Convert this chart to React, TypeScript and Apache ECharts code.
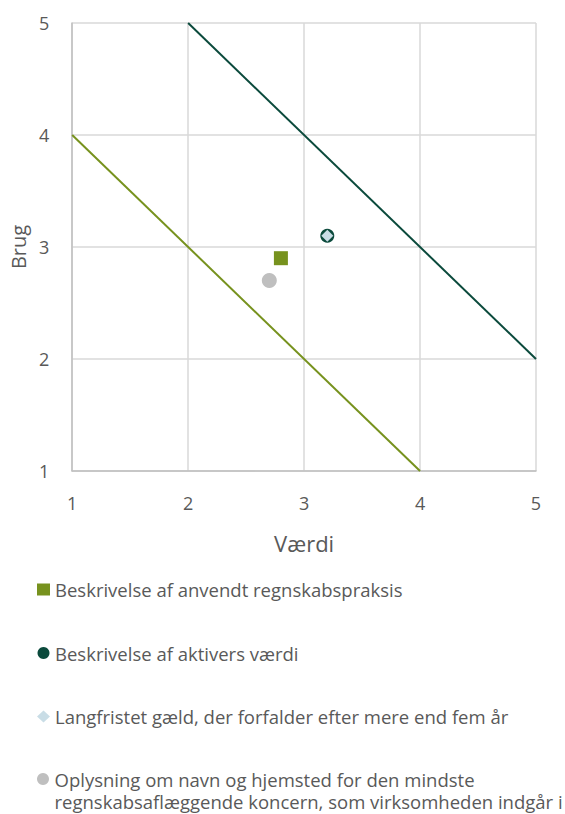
import React, { useEffect, useRef } from "react";
import * as echarts from "echarts";

// ---- data ----
const xAxisName = "Værdi";
const yAxisName = "Brug";
const axisMin = 1;
const axisMax = 5;
const axisStep = 1;

const seriesNames = [
  "Beskrivelse af anvendt regnskabspraksis",
  "Beskrivelse af aktivers værdi",
  "Langfristet gæld, der forfalder efter mere end fem år",
  "Oplysning om navn og hjemsted for den mindste regnskabsaflæggende koncern, som virksomheden indgår i",
];
const regnskabspraksisPoint = [[2.8, 2.9]];
const aktiversVaerdiPoint = [[3.2, 3.1]];
const langfristetGaeldPoint = [[3.2, 3.1]];
const oplysningPoint = [[2.7, 2.7]];

const lowerBoundLine = [
  [1, 4],
  [4, 1],
];
const upperBoundLine = [
  [2, 5],
  [5, 2],
];

const seriesColors = ["#77921E", "#0B4A3C", "#C9DDE6", "#BFBFBF"];
const seriesSymbols = ["rect", "circle", "diamond", "circle"];
const seriesPoints = [regnskabspraksisPoint, aktiversVaerdiPoint, langfristetGaeldPoint, oplysningPoint];
const symbolSizes = [14, 14, 12, 15];

const FONT = "'Open Sans', sans-serif";
const TEXT = "#595959";

export default function App() {
  const ref = useRef<HTMLDivElement>(null);

  useEffect(() => {
    if (!ref.current) return;
    const chart = echarts.init(ref.current, null, { renderer: "svg" });

    const scatterSeries = seriesNames.map((name, i) => ({
      name,
      type: "scatter",
      data: seriesPoints[i],
      symbol: seriesSymbols[i],
      symbolSize: symbolSizes[i],
      itemStyle: { color: seriesColors[i], opacity: 1 },
      z: 3 + i,
    }));

    const lastName = seriesNames[3];
    const breakAt = "mindste ";

    const legendBase = {
      orient: "vertical",
      left: 32,
      height: 400,
      itemWidth: 13,
      itemHeight: 12,
      itemGap: 42.5,
      textStyle: { fontFamily: FONT, fontSize: 18.5, color: TEXT, lineHeight: 21 },
    };

    chart.setOption({
      animation: false,
      backgroundColor: "#ffffff",
      textStyle: { fontFamily: FONT, color: TEXT },
      grid: { left: 72, right: 29, top: 23, bottom: 343, containLabel: false },
      xAxis: {
        type: "value",
        min: axisMin,
        max: axisMax,
        interval: axisStep,
        name: xAxisName,
        nameLocation: "middle",
        nameGap: 61,
        nameTextStyle: { fontFamily: FONT, fontSize: 22, color: TEXT },
        axisLine: { show: true, lineStyle: { color: "#BFBFBF", width: 1.5 } },
        axisTick: { show: false },
        axisLabel: { fontFamily: FONT, fontSize: 18, color: TEXT, margin: 23 },
        splitLine: { show: true, lineStyle: { color: "#D9D9D9", width: 1.5 } },
      },
      yAxis: {
        type: "value",
        min: axisMin,
        max: axisMax,
        interval: axisStep,
        name: yAxisName,
        nameLocation: "middle",
        nameGap: 38,
        nameTextStyle: { fontFamily: FONT, fontSize: 20, color: TEXT },
        axisLine: { show: true, lineStyle: { color: "#BFBFBF", width: 1.5 } },
        axisTick: { show: false },
        axisLabel: { fontFamily: FONT, fontSize: 18, color: TEXT, margin: 23 },
        splitLine: { show: true, lineStyle: { color: "#D9D9D9", width: 1.5 } },
      },
      legend: [
        {
          ...legendBase,
          top: 574,
          data: seriesNames.slice(0, 3).map((name, i) => ({
            name,
            icon: seriesSymbols[i],
            itemStyle: { color: seriesColors[i] },
          })),
        },
        {
          ...legendBase,
          top: 740.25,
          textStyle: { fontFamily: FONT, fontSize: 18.5, color: TEXT, lineHeight: 22.5 },
          formatter: (name: string) =>
            name === lastName ? "\n" + name.replace(breakAt, breakAt.trim() + "\n") : name,
          data: [
            {
              name: lastName,
              icon: seriesSymbols[3],
              itemStyle: { color: seriesColors[3] },
            },
          ],
        },
      ],
      series: [
        {
          name: "lower",
          type: "line",
          data: lowerBoundLine,
          symbol: "none",
          lineStyle: { color: "#77921E", width: 2 },
          z: 2,
          silent: true,
        },
        {
          name: "upper",
          type: "line",
          data: upperBoundLine,
          symbol: "none",
          lineStyle: { color: "#0B4A3C", width: 2 },
          z: 2,
          silent: true,
        },
        ...scatterSeries,
      ],
    });

    return () => chart.dispose();
  }, []);

  return (
    <div
      ref={ref}
      style={{ position: "absolute", left: 0, top: 0, width: 565, height: 814 }}
    />
  );
}
